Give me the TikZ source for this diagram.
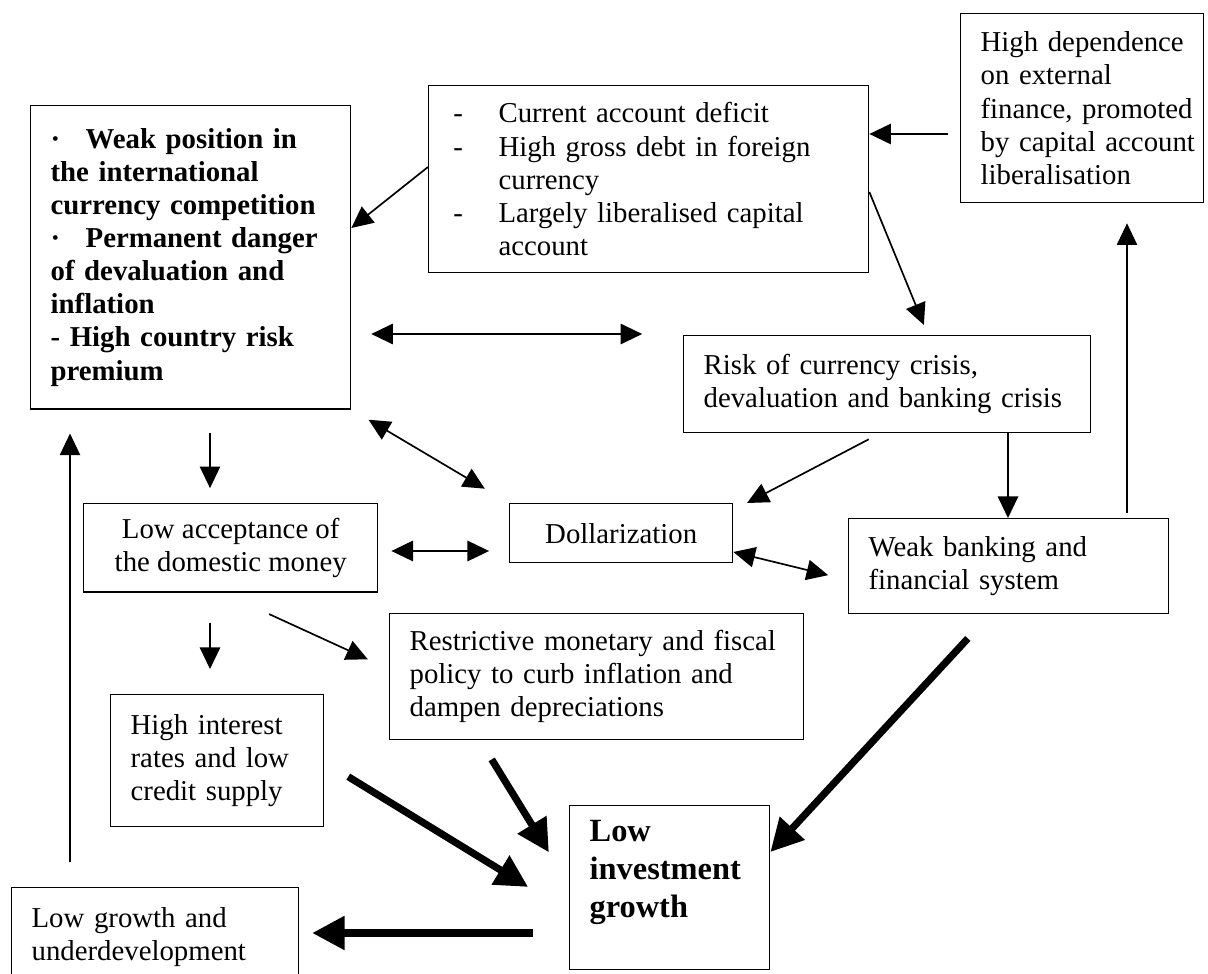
\documentclass[tikz,border=0pt]{standalone}
\usepackage{fontspec}
\setmainfont{Liberation Serif}
\usetikzlibrary{arrows.meta}

\tikzset{
  box/.style={draw, line width=0.6pt, anchor=north west, inner xsep=8.3pt, inner ysep=0pt,
    align=left, font=\fontsize{12}{13.8}\selectfont,
    execute at begin node={\hyphenpenalty=10000\exhyphenpenalty=10000}},
  cbox/.style={box, align=center},
  link/.style={line width=0.7pt, -{Triangle[length=9pt, width=8.5pt]}},
  bilink/.style={line width=0.7pt, {Triangle[length=9pt, width=8.5pt]}-{Triangle[length=9pt, width=8.5pt]}},
  thin link/.style={line width=0.45pt, -{Triangle[length=9pt, width=8.5pt]}},
  fat link/.style={line width=3pt, -{Triangle[length=13.5pt, width=13.5pt]}},
}
\newcommand{\dashitem}{\makebox[20.8pt][l]{\hspace*{2pt}-}}
\newcommand{\dashcont}{\hspace*{20.8pt}}
\newcommand{\dotitem}{\makebox[14.6pt][l]{·}}

\begin{document}
\begin{tikzpicture}[x=0.41667pt, y=-0.41667pt]
    \useasboundingbox (0,0) rectangle (1208,974);

    % Boxes
    \node[box, text width=116.7pt, minimum height=126.3pt, font=\fontsize{12}{13.8}\selectfont\bfseries] (weak) at (30,105)
      {\dotitem Weak position in\\the international\\currency competition\\\dotitem Permanent danger\\of devaluation and\\inflation\\- High country risk\\premium};
    \node[box, text width=166.7pt, minimum height=77.9pt] (deficit) at (428,85)
      {\dashitem Current account deficit\\\dashitem High gross debt in foreign\\\dashcont currency\\\dashitem Largely liberalised capital\\\dashcont account};
    \node[box, text width=84.6pt, minimum height=78.75pt] (depend) at (960,13)
      {High~dependence\\on~external\\finance,~promoted\\by~capital~account\\liberalisation};
    \node[box, text width=152.9pt, minimum height=40.4pt] (risk) at (683,335)
      {Risk of currency crisis,\\devaluation and banking crisis};
    \node[cbox, minimum width=122.5pt, minimum height=36.7pt] (accept) at (83,503)
      {Low acceptance of\\the domestic money};
    \node[cbox, minimum width=92.9pt, minimum height=24.6pt] (dollar) at (509,503) {Dollarization};
    \node[box, text width=116.7pt, minimum height=39.6pt] (weakbank) at (848,518)
      {Weak banking and\\financial system};
    \node[box, text width=155.8pt, minimum height=52.5pt] (restrict) at (389,613)
      {Restrictive monetary and fiscal\\policy to curb inflation and\\dampen depreciations};
    \node[box, text width=72.1pt, minimum height=55pt] (interest) at (110,694)
      {High interest\\rates and low\\credit supply};
    \node[box, text width=66.7pt, minimum height=68.3pt, font=\fontsize{13.5}{15.8}\selectfont\bfseries] (lowinv) at (569,805)
      {Low\\investment\\growth\\\mbox{}};
    \node[box, text width=102.9pt, minimum height=40.8pt] (lowgrowth) at (11,887)
      {Low growth and\\underdevelopment};

    % Upper links
    \draw[link, shorten <=5pt] (depend.west |- 0,134) -- (deficit.east |- 0,134);
    \draw[link] (deficit.west |- 0,167) -- (weak.east |- 0,228);
    \draw[link, shorten >=4.5pt] (deficit.east |- 0,192) -- (risk.north -| 928,0);
    \draw[bilink, shorten <=8.3pt, shorten >=17pt] (weak.east |- 0,334) -- (risk.west |- 0,334);
    \draw[bilink, shorten <=8.3pt, shorten >=11.7pt] (weak.south east) -- (dollar.north west);
    \draw[link, shorten <=9.6pt, shorten >=6.2pt] (weak.south -| 210,0) -- (accept.north -| 210,0);
    \draw[link, shorten <=5.3pt] (risk.south -| 880,0) -- (dollar.north -| 747,0);
    \draw[link] (risk.south -| 1008,0) -- (weakbank.north -| 1008,0);
    \draw[thin link, shorten <=2pt, shorten >=8.3pt] (weakbank.north -| 1127,0) -- (depend.south -| 1127,0);

    % Middle links
    \draw[bilink, shorten <=5.4pt, shorten >=8.3pt] (accept.east |- 0,551) -- (dollar.west |- 0,551);
    \draw[bilink, shorten >=8.5pt] (dollar.east |- 0,552) -- (weakbank.west |- 0,580);
    \draw[link, shorten <=12.9pt, shorten >=10.4pt] (accept.south -| 210,0) -- (interest.north -| 210,0);
    \draw[link, shorten <=21.6pt, shorten >=9.7pt] (accept.south -| 222,0) -- (restrict.west |- 0,669);

    % Heavy links into low investment
    \draw[fat link, shorten <=9.3pt, shorten >=16pt] (restrict.south -| 480,0) -- (lowinv.west |- 0,885);
    \draw[fat link, shorten <=11.7pt, shorten >=20pt] (interest.east |- 0,762) -- (lowinv.west |- 0,912);
    \draw[fat link, shorten <=13.6pt] (weakbank.south -| 990,0) -- (lowinv.east |- 0,852);
    \draw[fat link, shorten <=15pt, shorten >=5.4pt] (lowinv.west |- 0,933) -- (lowgrowth.east |- 0,933);

    % Feedback
    \draw[thin link, shorten <=10.4pt, shorten >=10pt] (lowgrowth.north -| 70,0) -- (weak.south -| 70,0);
\end{tikzpicture}
\end{document}
